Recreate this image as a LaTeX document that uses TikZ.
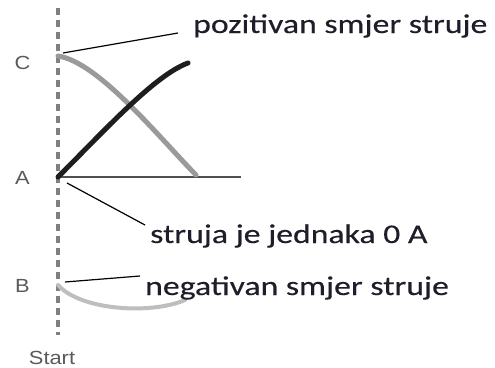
\documentclass[tikz,border=0pt]{standalone}
\usepackage{fontspec}
\usepackage{graphicx}
\setmainfont{Carlito}[FakeBold=0.3]
\newfontfamily\labfont{Liberation Sans}
\definecolor{txtcol}{HTML}{1E1E2A}
\definecolor{labcol}{HTML}{5A5A5A}
\definecolor{axiscol}{HTML}{808080}
\definecolor{grayc}{HTML}{9A9A9A}
\definecolor{lightc}{HTML}{BEBEBE}
\definecolor{darkc}{HTML}{1E1E1E}
\definecolor{hcol}{HTML}{505050}
\begin{document}
\begin{tikzpicture}[x=1pt,y=-1pt,
  maintext/.style={anchor=base west,inner sep=0pt,text=txtcol,font=\fontsize{27}{30}\selectfont},
  labtext/.style={anchor=base,inner sep=0pt,text=labcol,font=\labfont\fontsize{19}{22}\selectfont},
  axisline/.style={draw=axiscol,line width=3.5pt,dash pattern=on 7pt off 5pt},
  pointer/.style={draw=black,line width=1.2pt},
  curve/.style={line width=5pt,line cap=round}]
\useasboundingbox (0,0) rectangle (495,367);
% axis
\coordinate (top) at (58,8);
\coordinate (bot) at (58,335);
\draw[axisline] (top) -- (bot);
% points
\coordinate (C) at (58,56);
\coordinate (A) at (58,177);
\coordinate (B) at (58,285);
\coordinate (Aend) at (241,177);
% labels
\node[labtext] (lC) at (22.5,69) {\scalebox{1.15}[1]{C}};
\node[labtext] (lA) at (22.5,184) {\scalebox{1.15}[1]{A}};
\node[labtext] (lB) at (22.5,292) {\scalebox{1.15}[1]{B}};
\node[labtext] (lS) at (52,364) {\scalebox{1.15}[1]{Start}};
% horizontal line
\draw[draw=hcol,line width=2pt] (A) -- (Aend);
% curves
\draw[curve,draw=grayc] (C) .. controls (98,62) and (157,135) .. (196,175);
\draw[curve,draw=darkc] (A) .. controls (105,130) and (155,75) .. (188,63);
\draw[curve,draw=lightc,line width=4pt] (B) .. controls (80,310) and (150,315) .. (185,300);
% texts
\node[maintext] (tP) at (193,33) {\scalebox{1.25}[1]{pozitivan smjer struje}};
\node[maintext] (tZ) at (150,243) {\scalebox{1.25}[1]{struja je jednaka 0 A}};
\node[maintext] (tN) at (145,295) {\scalebox{1.25}[1]{negativan smjer struje}};
% pointers
\coordinate (pC1) at (63,53);
\coordinate (pC2) at (178,33);
\coordinate (pA1) at (67,183);
\coordinate (pA2) at (145,225);
\coordinate (pB1) at (65,282);
\coordinate (pB2) at (140,276);
\draw[pointer] (pC1) -- (pC2);
\draw[pointer] (pA1) -- (pA2);
\draw[pointer] (pB1) -- (pB2);
\end{tikzpicture}
\end{document}
